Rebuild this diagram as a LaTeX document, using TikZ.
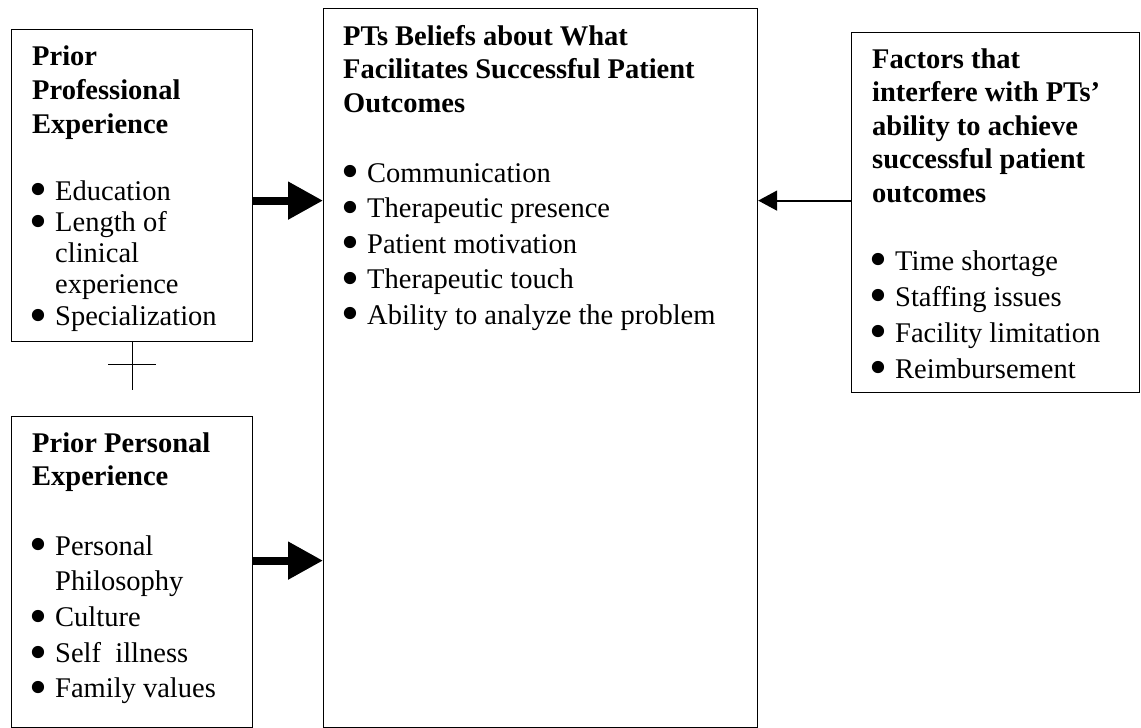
\documentclass[tikz,border=0pt]{standalone}
\usepackage{graphicx}
\usepackage{fontspec}
\setmainfont{Liberation Serif}
\usetikzlibrary{arrows.meta}

\newcommand{\bl}{\makebox[23pt][l]{\hspace*{-3pt}\smash{\raisebox{-6.9pt}{\scalebox{1.8}{\textbullet}}}}}
\newcommand{\ind}{\hspace*{23pt}}
\newcommand{\boxtext}[2]{\parbox[t]{420pt}{\fontsize{28.5}{#1}\selectfont #2}}

\begin{document}
\begin{tikzpicture}[x=1pt,y=-1pt,
  box/.style={draw,line width=1.2pt,inner sep=0pt,anchor=north west},
  txt/.style={anchor=base west,inner sep=0pt},
  fat/.style={line width=8pt,-{Triangle[length=35pt,width=36pt]}},
  thin/.style={line width=1.8pt,-{Triangle[length=19pt,width=20pt]}}]
\useasboundingbox (0,0) rectangle (1141,728);

\node[box,minimum width=241pt,minimum height=312pt] (pro) at (11,29) {};
\node[box,minimum width=241pt,minimum height=311pt] (per) at (11,416) {};
\node[box,minimum width=434pt,minimum height=719pt] (bel) at (323,8) {};
\node[box,minimum width=288pt,minimum height=360pt] (fac) at (851,32) {};

\node[txt] (proT) at (32,65) {\boxtext{34}{\bfseries Prior\\Professional\\Experience}};
\node[txt] (proL) at (32,200) {\boxtext{31.3}{\bl Education\\\bl Length of\\\ind clinical\\\ind experience\\\bl Specialization}};

\draw[line width=1.2pt] (pro.south) -- ++(0,48);
\draw[line width=1.2pt] ([xshift=-24pt,yshift=-22pt]pro.south) -- ++(48,0);

\node[txt] (perT) at (32,452) {\boxtext{33}{\bfseries Prior Personal\\Experience}};
\node[txt] (perL) at (32,555) {\boxtext{35.7}{\bl Personal\\\ind Philosophy\\\bl Culture\\\bl Self~ illness\\\bl Family values}};

\node[txt] (belT) at (343,45) {\boxtext{33.5}{\bfseries PTs Beliefs about What\\Facilitates Successful Patient\\Outcomes}};
\node[txt] (belL) at (344,182) {\boxtext{35.5}{\bl Communication\\\bl Therapeutic presence\\\bl Patient motivation\\\bl Therapeutic touch\\\bl Ability to analyze the problem}};

\node[txt] (facT) at (872,68) {\boxtext{33.5}{\bfseries Factors that\\interfere with PTs’\\ability to achieve\\successful patient\\outcomes}};
\node[txt] (facL) at (872,270) {\boxtext{36}{\bl Time shortage\\\bl Staffing issues\\\bl Facility limitation\\\bl Reimbursement}};

\draw[fat] ([yshift=-15pt]pro.east) -- ([yshift=-15pt]pro.east -| bel.west);
\draw[fat] ([yshift=11.5pt]per.east) -- ([yshift=11.5pt]per.east -| bel.west);
\draw[thin] ([yshift=12pt]fac.west) -- ([yshift=12pt]fac.west -| bel.east);
\end{tikzpicture}
\end{document}
